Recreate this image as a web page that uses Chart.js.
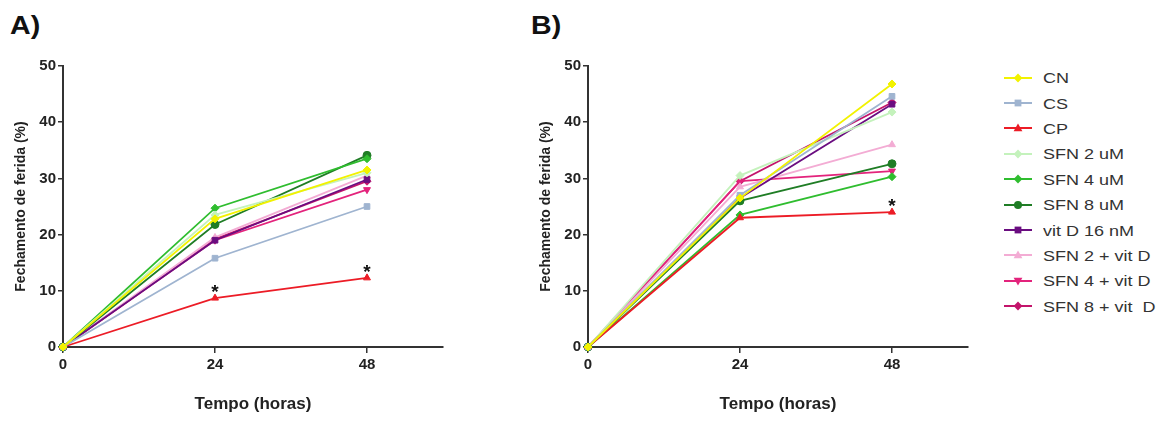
<!DOCTYPE html>
<html><head><meta charset="utf-8">
<script src="https://cdn.jsdelivr.net/npm/chart.js@4.4.1/dist/chart.umd.min.js"></script>
<style>
html,body{margin:0;padding:0;background:#fff;}
body{width:1167px;height:424px;overflow:hidden;position:relative;font-family:"Liberation Sans",Arial,sans-serif;}
.panel{position:absolute;top:0;height:424px;width:470px;}
#pa{left:0px} #pb{left:525px}
.lbl{position:absolute;font-weight:bold;font-size:26px;color:#111;top:10px;transform:scaleX(1.1);transform-origin:left top;}
#legend{position:absolute;left:1004px;top:65px;}
.item{height:25.4px;display:flex;align-items:center;}
.item canvas{width:28px;height:14px;margin-right:11px;display:block}
.item span{font-size:15px;color:#333;transform:scaleX(1.2);transform-origin:left center;white-space:pre;line-height:15px}
</style></head>
<body>
<div class="lbl" style="left:10px">A)</div>
<div class="lbl" style="left:531px">B)</div>
<div class="panel" id="pa"><canvas id="ca"></canvas></div>
<div class="panel" id="pb"><canvas id="cb"></canvas></div>
<div id="legend"></div>
<script>
// ---- data ----
const timepoints = [0, 24, 48];
const xTickValues = [0, 24, 48];
const yTickLabels = ['0', '10', '20', '30', '40', '50'];
const seriesNames = ['CN', 'CS', 'CP', 'SFN 2 uM', 'SFN 4 uM', 'SFN 8 uM', 'vit D 16 nM', 'SFN 2 + vit D', 'SFN 4 + vit D', 'SFN 8 + vit  D'];

// Panel A
const A_CN      = [0, 22.8, 31.5];
const A_CS      = [0, 15.8, 25.0];
const A_CP      = [0, 8.7, 12.3];
const A_SFN2    = [0, 23.5, 31.0];
const A_SFN4    = [0, 24.7, 33.5];
const A_SFN8    = [0, 21.8, 34.1];
const A_VITD    = [0, 19.0, 29.8];
const A_SFN2VD  = [0, 19.5, 30.5];
const A_SFN4VD  = [0, 19.0, 28.0];
const A_SFN8VD  = [0, 19.2, 29.5];
// Panel B
const B_CN      = [0, 26.5, 46.8];
const B_CS      = [0, 27.0, 44.6];
const B_CP      = [0, 23.0, 24.0];
const B_SFN2    = [0, 30.5, 41.8];
const B_SFN4    = [0, 23.5, 30.3];
const B_SFN8    = [0, 26.0, 32.6];
const B_VITD    = [0, 26.5, 43.2];
const B_SFN2VD  = [0, 28.5, 36.0];
const B_SFN4VD  = [0, 29.5, 31.3];
const B_SFN8VD  = [0, 29.5, 43.5];

// significance marks (time points above CP)
const starsA = [24, 48];
const starsB = [48];

// ---- styles ----
const colors = ['#f2f200', '#9fb4d0', '#ec1c26', '#c4f2bc', '#2fbd2f', '#1f7d25', '#6a0d80', '#f3acd4', '#e3237c', '#c3146b'];
const pointStyles = ['rectRot', 'rect', 'triangle', 'rectRot', 'rectRot', 'circle', 'rect', 'triangle', 'triangle', 'rectRot'];
const pointRotations = [0, 0, 0, 0, 0, 0, 0, 0, 180, 0];
const FONT = '"Liberation Sans", Arial, sans-serif';

const panelA = [A_CN, A_CS, A_CP, A_SFN2, A_SFN4, A_SFN8, A_VITD, A_SFN2VD, A_SFN4VD, A_SFN8VD];
const panelB = [B_CN, B_CS, B_CP, B_SFN2, B_SFN4, B_SFN8, B_VITD, B_SFN2VD, B_SFN4VD, B_SFN8VD];

const starPlugin = {
  id: 'stars',
  afterDatasetsDraw(chart, args, opts) {
    const ctx = chart.ctx, xs = chart.scales.x, ys = chart.scales.y;
    ctx.save();
    ctx.font = 'bold 19px ' + FONT;
    ctx.fillStyle = '#111';
    ctx.textAlign = 'center';
    ctx.textBaseline = 'alphabetic';
    opts.times.forEach(t => {
      const i = timepoints.indexOf(t);
      const px = xs.getPixelForValue(t);
      const py = ys.getPixelForValue(opts.ref[i]);
      ctx.fillText('*', px, py);
    });
    ctx.restore();
  }
};

function makePanel(id, values, starTimes, cpValues) {
  const datasets = values.map((vals, k) => ({
    label: seriesNames[k],
    data: vals.map((v, i) => ({x: timepoints[i], y: v})),
    borderColor: colors[k],
    backgroundColor: colors[k],
    pointBackgroundColor: colors[k],
    pointBorderColor: colors[k],
    pointStyle: pointStyles[k],
    rotation: pointRotations[k],
    pointRadius: 4,
    pointBorderWidth: 1,
    borderWidth: 1.8,
    tension: 0,
    clip: false
  }));
  return new Chart(document.getElementById(id), {
    type: 'line',
    data: {datasets},
    plugins: [starPlugin],
    options: {
      responsive: true,
      maintainAspectRatio: false,
      animation: false,
      events: [],
      layout: {padding: {left: 0, top: 66, right: 27, bottom: 0}},
      plugins: {
        legend: {display: false},
        tooltip: {enabled: false},
        stars: {times: starTimes, ref: cpValues}
      },
      scales: {
        x: {
          type: 'linear', min: 0, max: 60,
          afterBuildTicks: s => { s.ticks = xTickValues.map(v => ({value: v})); },
          afterFit: s => { s.height = 77; },
          grid: {display: true, drawOnChartArea: false, drawTicks: true, tickLength: 6, color: '#333', lineWidth: 1.5},
          border: {display: true, color: '#333', width: 2},
          ticks: {font: {family: FONT, size: 15, weight: 'bold'}, color: '#222', padding: 3, maxRotation: 0,
                  callback: v => String(v)},
          title: {display: true, text: 'Tempo (horas)', font: {family: FONT, size: 17, weight: 'bold'}, color: '#222',
                  padding: {top: 0, bottom: 9}}
        },
        y: {
          min: 0, max: 50,
          afterBuildTicks: s => { s.ticks = yTickLabels.map(v => ({value: Number(v)})); },
          afterFit: s => { s.width = 63; },
          grid: {display: true, drawOnChartArea: false, drawTicks: true, tickLength: 5, color: '#333', lineWidth: 1.5},
          border: {display: true, color: '#333', width: 2},
          ticks: {font: {family: FONT, size: 15, weight: 'bold'}, color: '#222', padding: 2,
                  callback: (v, i) => yTickLabels[i]},
          title: {display: true, text: 'Fechamento de ferida (%)', font: {family: FONT, size: 14, weight: 'bold'}, color: '#222',
                  padding: {top: 13, bottom: 0}}
        }
      }
    }
  });
}

makePanel('ca', panelA, starsA, A_CP);
makePanel('cb', panelB, starsB, B_CP);

// ---- HTML legend ----
function drawMarker(ctx, style, rot, x, y, r, color) {
  ctx.save();
  ctx.translate(x, y);
  ctx.rotate(rot * Math.PI / 180);
  ctx.fillStyle = color;
  ctx.beginPath();
  if (style === 'circle') { ctx.arc(0, 0, r, 0, Math.PI * 2); }
  else if (style === 'rect') { ctx.rect(-r * 0.85, -r * 0.85, r * 1.7, r * 1.7); }
  else if (style === 'rectRot') { ctx.moveTo(0, -r * 1.1); ctx.lineTo(r * 1.1, 0); ctx.lineTo(0, r * 1.1); ctx.lineTo(-r * 1.1, 0); ctx.closePath(); }
  else if (style === 'triangle') { ctx.moveTo(0, -r * 1.15); ctx.lineTo(r * 1.1, r * 0.8); ctx.lineTo(-r * 1.1, r * 0.8); ctx.closePath(); }
  ctx.fill();
  ctx.restore();
}
const legend = document.getElementById('legend');
seriesNames.forEach((name, k) => {
  const item = document.createElement('div');
  item.className = 'item';
  const c = document.createElement('canvas');
  c.width = 28; c.height = 14;
  const ctx = c.getContext('2d');
  ctx.strokeStyle = colors[k];
  ctx.lineWidth = 2;
  ctx.beginPath(); ctx.moveTo(0, 7); ctx.lineTo(28, 7); ctx.stroke();
  drawMarker(ctx, pointStyles[k], pointRotations[k], 14, 7, 4, colors[k]);
  const s = document.createElement('span');
  s.textContent = name;
  item.appendChild(c); item.appendChild(s);
  legend.appendChild(item);
});
</script>
</body></html>
